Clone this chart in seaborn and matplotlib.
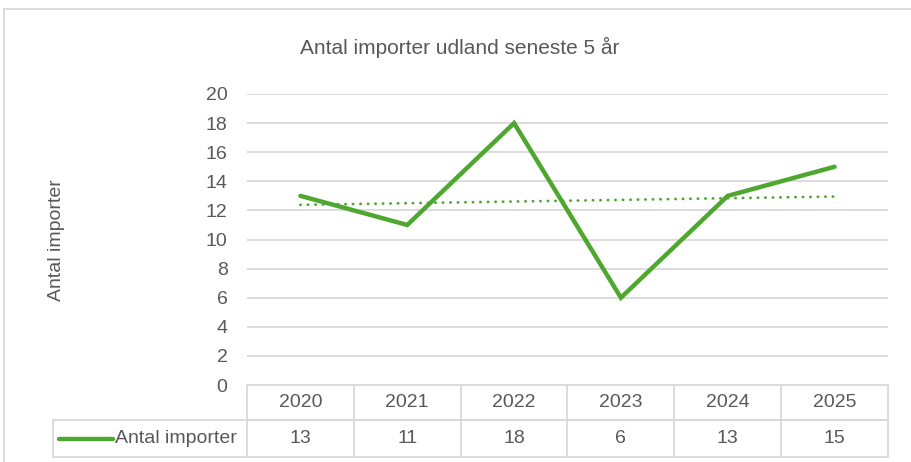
import numpy as np
import pandas as pd
import matplotlib
matplotlib.use("Agg")
import matplotlib.pyplot as plt
import matplotlib.transforms as mtransforms
from matplotlib.lines import Line2D
import seaborn as sns

years = ["2020", "2021", "2022", "2023", "2024", "2025"]
values = [13, 11, 18, 6, 13, 15]
series_name = "Antal importer"
title = "Antal importer udland seneste 5 år"
y_label = "Antal importer"
y_ticks = [0, 2, 4, 6, 8, 10, 12, 14, 16, 18, 20]

sns.set_style("white")
plt.rcParams['font.family'] = ['Liberation Sans Narrow', 'Liberation Sans', 'DejaVu Sans']

GREEN = "#4ea72e"
TXT = "#595959"
GRID = "#d9d9d9"

W, H = 912, 462
fig = plt.figure(figsize=(W / 100, H / 100), dpi=100)

x0, x1 = 247, 888
y_top, y_bot = 94, 385
ax = fig.add_axes([x0 / W, 1 - y_bot / H, (x1 - x0) / W, (y_bot - y_top) / H])

df = pd.DataFrame({"idx": np.arange(len(years)), "val": values})
sns.lineplot(data=df, x="idx", y="val", ax=ax, color=GREEN, linewidth=3.2,
             solid_capstyle="round", solid_joinstyle="miter")

# linear trendline (Excel style)
coef = np.polyfit(df["idx"], df["val"], 1)
trend = np.polyval(coef, df["idx"])
ax.plot(df["idx"], trend, color=GREEN, linewidth=2.0, linestyle=(0, (0.1, 2.6)),
        dash_capstyle="round")

ax.set_xlim(-0.5, len(years) - 0.5)
ax.set_ylim(0, 20)
ax.set_yticks(y_ticks)
ax.set_xticks([])
ax.set_xlabel("")
ax.set_ylabel("")
for s in ax.spines.values():
    s.set_visible(False)
ax.grid(axis="y", color=GRID, linewidth=1.3)
ax.set_axisbelow(True)
ax.tick_params(axis="y", length=0, pad=14, labelsize=14, labelcolor=TXT)

# data table below
px_x = 1.0 / ((x1 - x0) / len(years))  # data units per pixel
px_y = 1.0 / (y_bot - y_top)
trans = mtransforms.blended_transform_factory(ax.transData, ax.transAxes)
row1_b = -(420 - y_bot) * px_y
row2_b = -(457 - y_bot) * px_y
left_cell = -0.5 - (x1 - x0) / len(years) * 0 - (247 - 53) * px_x

lk = dict(color=GRID, linewidth=1.3, transform=trans, clip_on=False)
ax.add_line(Line2D([-0.5, 5.5], [0, 0], **lk))
ax.add_line(Line2D([-0.5, 5.5], [row1_b, row1_b], **lk))
ax.add_line(Line2D([left_cell, 5.5], [row1_b, row1_b], **lk))
ax.add_line(Line2D([left_cell, 5.5], [row2_b, row2_b], **lk))
ax.add_line(Line2D([left_cell, left_cell], [row1_b, row2_b], **lk))
for i in range(len(years) + 1):
    ax.add_line(Line2D([i - 0.5, i - 0.5], [0, row2_b], **lk))

for i, (yr, v) in enumerate(zip(years, values)):
    ax.text(i, row1_b / 2, yr, transform=trans, ha="center", va="center",
            fontsize=14, color=TXT)
    ax.text(i, (row1_b + row2_b) / 2, str(v), transform=trans, ha="center",
            va="center", fontsize=14, color=TXT)

# legend key in table
ymid = (row1_b + row2_b) / 2
ax.add_line(Line2D([left_cell + 6 * px_x, left_cell + 60 * px_x], [ymid, ymid],
                   color=GREEN, linewidth=3.2, solid_capstyle="round",
                   transform=trans, clip_on=False))
ax.text(left_cell + 62 * px_x, ymid, series_name, transform=trans, ha="left",
        va="center", fontsize=14, color=TXT)

# title and y label
fig.text(460 / W, 1 - 47 / H, title, ha="center", va="center", fontsize=15,
         color=TXT)
fig.text(57 / W, 1 - 240 / H, y_label, ha="center", va="center", rotation=90,
         fontsize=14, color=TXT)

# outer chart border
fig.add_artist(Line2D([4 / W, 4 / W], [0, 1 - 9 / H], color=GRID, linewidth=1.3,
                      transform=fig.transFigure))
fig.add_artist(Line2D([4 / W, 1], [1 - 9 / H, 1 - 9 / H], color=GRID, linewidth=1.3,
                      transform=fig.transFigure))

fig.savefig("out.png", dpi=100)
